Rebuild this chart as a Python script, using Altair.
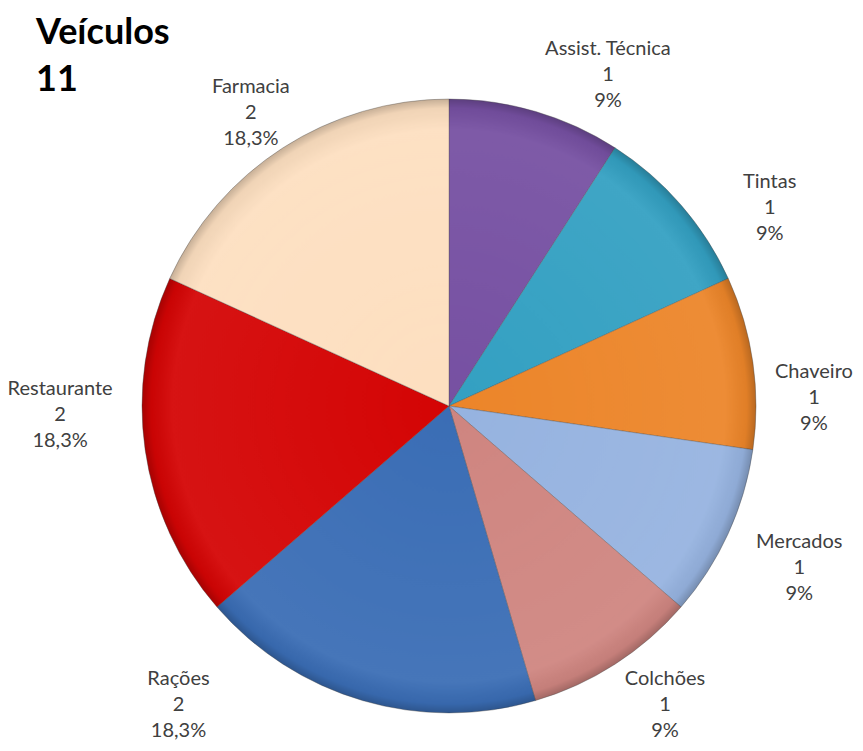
import math
import altair as alt
import pandas as pd

# ---- data ----
categories = ["Assist. Técnica", "Tintas", "Chaveiro", "Mercados",
              "Colchões", "Rações", "Restaurante", "Farmacia"]
counts = [1, 1, 1, 1, 1, 2, 2, 2]
pct_labels = ["9%", "9%", "9%", "9%", "9%", "18,3%", "18,3%", "18,3%"]
slice_colors = ["#7650A2", "#33A0C2", "#EC8529", "#96B3E0",
                "#CF8580", "#3A6DB5", "#D40404", "#FDDFC0"]
title_lines = ["Veículos", "11"]

# ---- layout (styling, not data) ----
CX, CY = 441, 398          # pie centre inside the view
R = 307                    # pie radius
LINE_H = 26
label_nudge_deg = {"Assist. Técnica": 9.3, "Tintas": 9.2, "Chaveiro": 7, "Mercados": 0.3,
                   "Colchões": -3.1, "Rações": 25.8, "Restaurante": 6.9, "Farmacia": -1.3}
label_radius = {"Assist. Técnica": 367, "Tintas": 377, "Chaveiro": 365, "Mercados": 386,
                "Colchões": 369, "Rações": 403, "Restaurante": 389, "Farmacia": 354}

df = pd.DataFrame({"cat": categories, "count": counts, "pct": pct_labels,
                   "order": list(range(len(categories)))})
total = sum(counts)
cum = df["count"].cumsum() - df["count"] / 2
df["label_theta"] = [2 * math.pi * c / total + math.radians(label_nudge_deg[k])
                     for c, k in zip(cum, df["cat"])]
df["label_r"] = [label_radius[k] for k in df["cat"]]
df["label"] = df["cat"] + "\n" + df["count"].astype(str) + "\n" + df["pct"]

color_scale = alt.Scale(domain=categories, range=slice_colors)

base = alt.Chart(df)

pie = base.mark_arc(outerRadius=R, stroke="#4a4a4a", strokeOpacity=0.35,
                    strokeWidth=1).encode(
    theta=alt.Theta("count:Q", stack=True),
    order=alt.Order("order:Q"),
    color=alt.Color("cat:N", scale=color_scale, legend=None),
    x=alt.value(CX), y=alt.value(CY),
)

rim_gradient = {
    "gradient": "radial",
    "x1": 0.5, "y1": 0.5, "x2": 0.5, "y2": 0.5, "r1": 0, "r2": 0.5,
    "stops": [
        {"offset": 0, "color": "rgba(255,255,255,0)"},
        {"offset": 0.9, "color": "rgba(255,255,255,0.06)"},
        {"offset": 0.97, "color": "rgba(0,0,0,0.05)"},
        {"offset": 1, "color": "rgba(0,0,0,0.22)"},
    ],
}
rim = alt.Chart(pd.DataFrame({"v": [1]})).mark_arc(
    theta=0, theta2=2 * math.pi, outerRadius=R, fill=rim_gradient
).encode(x=alt.value(CX), y=alt.value(CY))

labels = base.mark_text(lineBreak="\n", lineHeight=LINE_H, fontSize=20, font="Lato",
                        color="#404040", align="center", baseline="middle",
                        dy=-LINE_H).encode(
    theta=alt.Theta("label_theta:Q", scale=None, stack=None),
    radius=alt.Radius("label_r:Q", scale=None),
    text="label:N",
    x=alt.value(CX), y=alt.value(CY),
)

chart = alt.layer(pie, rim, labels).properties(
    width=847, height=735,
    autosize=alt.AutoSizeParams(type="none"),
    padding=0,
    title=alt.TitleParams(title_lines, anchor="start", frame="group", orient="top",
                          baseline="top", dx=28, dy=91, offset=0, fontSize=36,
                          font="Lato", fontWeight="bold", color="#000000",
                          lineHeight=47),
).configure_view(stroke=None)

chart.save("out.html", embed_options={"renderer": "svg", "actions": False})
